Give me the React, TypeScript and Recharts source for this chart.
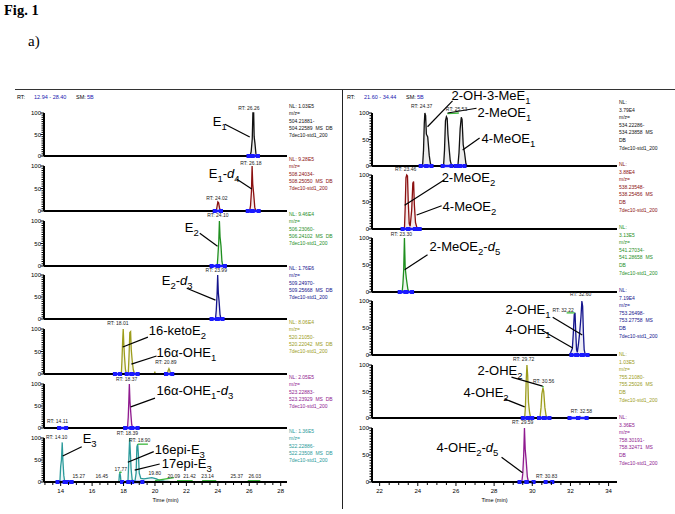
import React from 'react';
import { ComposedChart, Area, Line, XAxis, YAxis, ReferenceLine, ReferenceDot } from 'recharts';

type Pt = [number, number];
type Rt = [string, number, number];
type Name = [string, number, number, number, number, number, number];

// axes
const leftDomain: Pt = [12.94, 28.4];
const rightDomain: Pt = [21.6, 34.44];
const leftTicks = [13, 13.5, 14, 14.5, 15, 15.5, 16, 16.5, 17, 17.5, 18, 18.5, 19, 19.5, 20, 20.5, 21, 21.5, 22, 22.5, 23, 23.5, 24, 24.5, 25, 25.5, 26, 26.5, 27, 27.5, 28];
const rightTicks = [22, 22.5, 23, 23.5, 24, 24.5, 25, 25.5, 26, 26.5, 27, 27.5, 28, 28.5, 29, 29.5, 30, 30.5, 31, 31.5, 32, 32.5, 33, 33.5, 34];
const yTicks = [0, 5, 10, 15, 20, 25, 30, 35, 40, 45, 50, 55, 60, 65, 70, 75, 80, 85, 90, 95, 100];

// ---- left panel traces (relative abundance) ----
const e1Trace: Pt[] = [[12.94, 0], [26.05, 0], [26.12, 10], [26.19, 40], [26.23, 100], [26.28, 100], [26.31, 45], [26.36, 30], [26.42, 6], [26.48, 0], [28.4, 0]];
const e1Markers: Pt[] = [[25.95, 26.18], [26.22, 26.55]];
const e1Rt: Rt[] = [['RT: 26.26', 25.97, 107]];
const e1Names: Name[] = [['E{1}', 23.68, 70, 24.45, 74, 26.03, 44]];
const e1Nl = ['NL: 1.03E5', 'm/z=', '504.21881-', '504.22589  MS  DB', '7dec10-std1_200'];

const e1d4Trace: Pt[] = [[12.94, 0], [23.9, 0], [23.95, 10], [24.0, 20], [24.05, 18], [24.1, 8], [24.16, 0], [26.02, 0], [26.08, 12], [26.14, 45], [26.18, 100], [26.22, 60], [26.28, 38], [26.35, 8], [26.42, 0], [28.4, 0]];
const e1d4Markers: Pt[] = [[23.8, 24.2], [25.9, 26.18], [26.22, 26.6]];
const e1d4Rt: Rt[] = [['RT: 26.18', 26.1, 102], ['RT: 24.02', 23.94, 24]];
const e1d4Names: Name[] = [['E{1}-[d]{4}', 23.42, 73, 25.19, 71, 26.16, 49]];
const e1d4Nl = ['NL: 9.28E5', 'm/z=', '508.24034-', '508.25050  MS  DB', '7dec10-std1_200'];

const e2Trace: Pt[] = [[12.94, 0], [23.96, 0], [24.0, 20], [24.06, 55], [24.1, 100], [24.14, 65], [24.2, 45], [24.26, 10], [24.32, 0], [28.4, 0]];
const e2Markers: Pt[] = [[23.6, 23.98], [24.02, 24.45]];
const e2Rt: Rt[] = [['RT: 24.10', 24.0, 109]];
const e2Names: Name[] = [['E{2}', 21.9, 76, 22.85, 73, 23.98, 44]];
const e2Nl = ['NL: 9.46E4', 'm/z=', '506.23060-', '506.24102  MS  DB', '7dec10-std1_200'];

const e2d3Trace: Pt[] = [[12.94, 0], [23.85, 0], [23.9, 20], [23.95, 55], [23.99, 100], [24.03, 60], [24.08, 40], [24.14, 10], [24.2, 0], [28.4, 0]];
const e2d3Markers: Pt[] = [[23.6, 23.95], [24.0, 24.3]];
const e2d3Rt: Rt[] = [['RT: 23.99', 23.9, 107]];
const e2d3Names: Name[] = [['E{2}-[d]{3}', 20.43, 77, 22.02, 70, 23.85, 43]];
const e2d3Nl = ['NL: 1.76E6', 'm/z=', '509.24970-', '509.25668  MS  DB', '7dec10-std1_200'];

const ketoTrace: Pt[] = [[12.94, 0], [17.86, 0], [17.9, 30], [17.94, 70], [17.98, 100], [18.02, 65], [18.06, 40], [18.12, 10], [18.18, 0], [18.3, 0], [18.35, 40], [18.4, 92], [18.45, 94], [18.49, 55], [18.55, 30], [18.62, 10], [18.7, 0], [19.96, 0], [19.99, 5], [20.02, 0], [20.78, 0], [20.84, 8], [20.89, 12], [20.94, 8], [21.0, 0], [28.4, 0]];
const ketoMarkers: Pt[] = [[17.45, 17.78], [18.2, 18.5], [18.55, 18.9], [20.7, 21.1]];
const ketoRt: Rt[] = [['RT: 18.01', 17.64, 109], ['RT: 20.89', 20.69, 22]];
const ketoNames: Name[] = [['16-ketoE{2}', 19.6, 87, 19.55, 82, 17.95, 60], ['16α-OHE{1}', 20.1, 38, 20.1, 40, 18.5, 22]];
const ketoNl = ['NL: 8.06E4', 'm/z=', '520.21050-', '520.22042  MS  DB', '7dec10-std1_200'];

const ohd3Trace: Pt[] = [[12.94, 0], [18.25, 0], [18.3, 25], [18.34, 65], [18.37, 100], [18.41, 60], [18.46, 35], [18.52, 8], [18.58, 0], [28.4, 0]];
const ohd3Markers: Pt[] = [[13.9, 14.35], [18.1, 18.5], [18.55, 18.9]];
const ohd3Rt: Rt[] = [['RT: 18.37', 18.2, 107], ['RT: 14.11', 13.8, 11]];
const ohd3Names: Name[] = [['16α-OHE{1}-[d]{3}', 20.1, 75, 20.0, 68, 18.46, 48]];
const ohd3Nl = ['NL: 2.05E5', 'm/z=', '523.22883-', '523.23929  MS  DB', '7dec10-std1_200'];

const e3Trace: Pt[] = [[12.94, 0], [13.95, 0], [14.0, 35], [14.05, 50], [14.1, 90], [14.14, 50], [14.2, 15], [14.26, 0], [17.7, 0], [17.74, 18], [17.77, 20], [17.8, 15], [17.84, 0], [18.28, 0], [18.33, 45], [18.39, 100], [18.43, 70], [18.48, 30], [18.55, 5], [18.72, 0], [18.8, 20], [18.85, 80], [18.9, 86], [18.95, 60], [19.0, 20], [19.1, 8], [19.3, 7], [19.6, 9], [19.8, 10], [20.1, 7], [20.3, 3], [20.6, 2], [21.0, 1], [21.3, 0], [28.4, 0]];
const e3Greens: Pt[][] = [[[17.72, 22], [17.88, 22]], [[18.9, 86], [19.55, 86]], [[20.0, 3], [21.2, 10]], [[21.4, 3], [22.4, 3]], [[23.0, 3], [23.9, 3]], [[25.9, 3], [26.7, 3]]];
const e3Markers: Pt[] = [[13.8, 14.25], [14.45, 14.7], [17.9, 18.3], [18.55, 19.2]];
const e3Rt: Rt[] = [['RT: 14.10', 13.75, 98], ['RT: 18.39', 18.24, 107], ['RT: 18.90', 19.03, 91], ['15.27', 15.15, 9], ['16.45', 16.62, 9], ['17.77', 17.83, 25], ['19.80', 19.99, 16], ['20.09', 21.2, 9], ['21.42', 22.2, 9], ['23.14', 23.35, 9], ['25.37', 25.2, 9], ['26.03', 26.35, 9]];
const e3Names: Name[] = [['E{3}', 15.4, 89, 15.34, 80, 14.13, 59], ['16epi-E{3}', 19.99, 64, 19.92, 69, 18.27, 45], ['17epi-E{3}', 20.43, 31, 20.3, 41, 18.71, 27]];
const e3Nl = ['NL: 1.36E5', 'm/z=', '522.22886-', '522.23508  MS  DB', '7dec10-std1_200'];

// ---- right panel traces ----
const meoE1Trace: Pt[] = [[21.6, 0], [24.25, 0], [24.3, 30], [24.34, 80], [24.37, 100], [24.41, 95], [24.45, 60], [24.52, 55], [24.6, 20], [24.66, 5], [24.72, 0], [25.35, 0], [25.4, 30], [25.45, 85], [25.5, 93], [25.54, 90], [25.58, 60], [25.65, 30], [25.7, 10], [25.78, 0], [26.1, 0], [26.16, 25], [26.22, 70], [26.28, 92], [26.32, 88], [26.38, 40], [26.45, 25], [26.52, 5], [26.58, 0], [34.44, 0]];
const meoE1Greens: Pt[][] = [[[25.55, 99], [26.15, 100]]];
const meoE1Markers: Pt[] = [[24.15, 24.45], [24.45, 24.72], [25.3, 25.77], [26.0, 26.2], [26.2, 26.45]];
const meoE1Rt: Rt[] = [['RT: 24.37', 24.2, 109], ['RT: 25.53', 26.03, 104]];
const meoE1Names: Name[] = [['2-OH-3-MeE{1}', 25.77, 125, 25.82, 123, 24.51, 74], ['2-MeOE{1}', 27.13, 92, 27.08, 109, 25.56, 100], ['4-MeOE{1}', 27.34, 43, 27.24, 53, 26.35, 30]];
const meoE1Nl = ['NL:', '3.79E4', 'm/z=', '534.22286-', '534.23858  MS', 'DB', '7dec10-std1_200'];

const meoE2Trace: Pt[] = [[21.6, 0], [23.3, 0], [23.34, 40], [23.38, 95], [23.42, 100], [23.46, 98], [23.5, 50], [23.55, 10], [23.6, 5], [23.68, 35], [23.74, 85], [23.78, 88], [23.82, 45], [23.88, 12], [23.95, 3], [24.05, 0], [34.44, 0]];
const meoE2Markers: Pt[] = [[23.2, 23.5], [23.5, 23.85], [23.95, 24.1]];
const meoE2Rt: Rt[] = [['RT: 23.46', 23.36, 107]];
const meoE2Names: Name[] = [['2-MeOE{2}', 25.25, 87, 25.4, 91, 23.31, 44], ['4-MeOE{2}', 25.3, 33, 25.25, 43, 23.94, 26]];
const meoE2Nl = ['NL:', '3.88E4', 'm/z=', '538.23548-', '538.25456  MS', 'DB', '7dec10-std1_200'];

const meoE2d5Trace: Pt[] = [[21.6, 0], [23.18, 0], [23.22, 15], [23.26, 40], [23.3, 100], [23.34, 45], [23.4, 25], [23.48, 5], [23.55, 0], [34.44, 0]];
const meoE2d5Markers: Pt[] = [[23.05, 23.35], [23.4, 23.7]];
const meoE2d5Rt: Rt[] = [['RT: 23.30', 23.14, 104]];
const meoE2d5Names: Name[] = [['2-MeOE{2}-[d]{5}', 24.62, 76, 24.51, 69, 23.31, 41]];
const meoE2d5Nl = ['NL:', '3.13E5', 'm/z=', '541.27034-', '541.28658  MS', 'DB', '7dec10-std1_200'];

const ohE1Trace: Pt[] = [[21.6, 0], [31.95, 0], [32.02, 5], [32.1, 12], [32.15, 40], [32.2, 75], [32.24, 78], [32.28, 40], [32.32, 10], [32.36, 5], [32.42, 20], [32.48, 40], [32.55, 70], [32.6, 100], [32.64, 90], [32.68, 40], [32.72, 10], [32.78, 0], [34.44, 0]];
const ohE1Greens: Pt[][] = [[[31.8, 78], [32.22, 78]]];
const ohE1Markers: Pt[] = [[32.05, 32.3], [32.35, 32.6], [32.65, 32.9]];
const ohE1Rt: Rt[] = [['RT: 32.22', 31.62, 80], ['RT: 32.60', 32.53, 109]];
const ohE1Names: Name[] = [['2-OHE{1}', 28.6, 76, 31.07, 70, 32.62, 37], ['4-OHE{1}', 28.6, 39, 30.5, 46, 32.12, 13]];
const ohE1Nl = ['NL:', '7.19E4', 'm/z=', '753.26498-', '753.27758  MS', 'DB', '7dec10-std1_200'];

const ohE2Trace: Pt[] = [[21.6, 0], [29.6, 0], [29.64, 20], [29.68, 70], [29.72, 100], [29.76, 80], [29.8, 30], [29.86, 10], [29.92, 0], [30.4, 0], [30.46, 20], [30.5, 45], [30.56, 57], [30.6, 50], [30.66, 20], [30.72, 5], [30.78, 0], [32.45, 0], [32.5, 3], [32.55, 0], [34.44, 0]];
const ohE2Greens: Pt[][] = [[[30.52, 59], [30.6, 59]]];
const ohE2Markers: Pt[] = [[29.5, 29.75], [29.8, 30.0], [30.35, 30.6], [30.65, 30.9], [31.95, 32.4], [32.4, 32.85]];
const ohE2Rt: Rt[] = [['RT: 29.72', 29.55, 107], ['RT: 30.56', 30.6, 66], ['RT: 32.58', 32.58, 9]];
const ohE2Names: Name[] = [['2-OHE{2}', 27.13, 81, 28.91, 77, 30.54, 60], ['4-OHE{2}', 26.4, 40, 28.55, 36, 29.6, 21]];
const ohE2Nl = ['NL:', '1.03E5', 'm/z=', '755.21080-', '755.25026  MS', 'DB', '7dec10-std1_200'];

const ohE2d5Trace: Pt[] = [[21.6, 0], [29.45, 0], [29.5, 15], [29.55, 50], [29.59, 100], [29.63, 60], [29.68, 40], [29.74, 10], [29.8, 0], [34.44, 0]];
const ohE2d5Markers: Pt[] = [[29.33, 29.7], [29.7, 30.07], [30.7, 31.05]];
const ohE2d5Rt: Rt[] = [['RT: 29.59', 29.5, 107], ['RT: 30.83', 30.75, 7]];
const ohE2d5Names: Name[] = [['4-OHE{2}-[d]{5}', 24.98, 56, 28.39, 46, 29.49, 17]];
const ohE2d5Nl = ['NL:', '3.36E5', 'm/z=', '758.30191-', '758.32471  MS', 'DB', '7dec10-std1_200'];

const BLUE = '#1a1aff';
const LIME = '#3cb83c';
const HDR = '#2020b0';
const SANS = 'Arial, "Liberation Sans", sans-serif';
const SERIF = '"Liberation Serif", "Times New Roman", serif';

const LEFT = { x0: 0, x1: 343, plotL: 44, plotR: 287, domain: leftDomain, ticks: leftTicks };
const RIGHT = { x0: 343, x1: 675, plotL: 372, plotR: 617, domain: rightDomain, ticks: rightTicks };

const rows = (pts: Pt[]) => pts.map(([t, v]) => ({ t, v }));

// "E{1}-[d]{4}" -> E with subscript 1, dash, italic d, subscript 4
function richText(s: string) {
  const out: React.ReactNode[] = [];
  const re = /\{([^}]*)\}|\[([^\]]*)\]|([^{[]+)/g;
  let m: RegExpExecArray | null;
  let low = false;
  let k = 0;
  while ((m = re.exec(s))) {
    if (m[1] !== undefined) {
      out.push(<tspan key={k++} dy={low ? 0 : 4} fontSize={9.5}>{m[1]}</tspan>);
      low = true;
    } else {
      const txt = m[2] !== undefined ? m[2] : m[3];
      out.push(<tspan key={k++} dy={low ? -4 : 0} fontSize={13} fontStyle={m[2] !== undefined ? 'italic' : 'normal'}>{txt}</tspan>);
      low = false;
    }
  }
  return out;
}

function YTick({ x, y, payload }: any) {
  const major = payload.value % 50 === 0;
  return (
    <g>
      <line x1={x} x2={x - (major ? 3.5 : 2.5)} y1={y} y2={y} stroke="#000" strokeWidth={1} />
      {major && <text x={x - 3} y={y + 2} fontSize={6} textAnchor="end" fill="#000" fontFamily={SANS}>{payload.value}</text>}
    </g>
  );
}

function XTick({ x, y, payload }: any) {
  const major = payload.value % 2 === 0;
  return (
    <g>
      <line x1={x} x2={x} y1={y} y2={y + (major ? 4 : 3)} stroke="#000" strokeWidth={1} />
      {major && <text x={x} y={y + 11} fontSize={6} textAnchor="middle" fill="#000" fontFamily={SANS}>{payload.value}</text>}
    </g>
  );
}

interface SubplotProps {
  panel: typeof LEFT;
  top: number;
  base: number;
  color: string;
  trace: Pt[];
  markers: Pt[];
  greens?: Pt[][];
  rt: Rt[];
  names: Name[];
  nl: string[];
  bottom?: boolean;
}

function Subplot({ panel, top, base, color, trace, markers, greens = [], rt, names, nl, bottom }: SubplotProps) {
  const padTop = 30;
  const padBottom = bottom ? 30 : 6;
  const w = panel.x1 - panel.x0;
  const h = padTop + (base - top) + padBottom;
  const yw = 22;
  const nlStep = nl.length > 5 ? 7.6 : 7.3;
  const nlStart = nl.length > 5 ? -9 : -5;
  return (
    <div style={{ position: 'absolute', left: panel.x0, top: top - padTop, width: w, height: h }}>
      <ComposedChart
        width={w}
        height={h}
        margin={{ top: padTop, right: panel.x1 - panel.plotR, bottom: bottom ? 0 : padBottom, left: panel.plotL - panel.x0 - yw }}
      >
        <XAxis
          type="number"
          dataKey="t"
          domain={panel.domain}
          hide={!bottom}
          ticks={panel.ticks}
          interval={0}
          tickSize={0}
          tickMargin={0}
          tickLine={false}
          tick={<XTick />}
          height={padBottom}
          axisLine={{ stroke: '#000', strokeWidth: 2 }}
          label={bottom ? { value: 'Time (min)', position: 'insideBottom', offset: 10, fontSize: 5.5, fill: '#000', fontFamily: SANS } : undefined}
        />
        <YAxis
          type="number"
          domain={[0, 100]}
          ticks={yTicks}
          interval={0}
          tickSize={0}
          tickMargin={0}
          tickLine={false}
          tick={<YTick />}
          width={yw}
          axisLine={{ stroke: '#000', strokeWidth: 2 }}
        />
        <ReferenceLine y={0} stroke="#000" strokeWidth={2} />
        <Area
          data={rows(trace)}
          dataKey="v"
          type="linear"
          stroke={color}
          strokeWidth={1.3}
          fill={color}
          fillOpacity={0.08}
          dot={false}
          activeDot={false}
          isAnimationActive={false}
        />
        {greens.map((g, i) => (
          <Line key={'g' + i} data={rows(g)} dataKey="v" type="linear" stroke={LIME} strokeWidth={1.3} dot={false} activeDot={false} isAnimationActive={false} />
        ))}
        {markers.map((mk, i) => (
          <Line
            key={'m' + i}
            data={[{ t: mk[0], v: 0 }, { t: mk[1], v: 0 }]}
            dataKey="v"
            type="linear"
            stroke={BLUE}
            strokeWidth={2.5}
            dot={(p: any) => <rect key={p.index} x={p.cx - 2} y={p.cy - 2} width={4} height={4} fill={BLUE} />}
            activeDot={false}
            isAnimationActive={false}
          />
        ))}
        {rt.map(([txt, t, v], i) => (
          <ReferenceDot
            key={'r' + i}
            x={t}
            y={v}
            r={0}
            ifOverflow="visible"
            shape={(p: any) => (
              <text x={p.cx} y={p.cy} fontSize={5} textAnchor="middle" fill="#222" fontFamily={SANS}>{txt}</text>
            )}
          />
        ))}
        {names.map(([txt, , , x1, y1, x2, y2], i) => (
          <ReferenceLine key={'l' + i} segment={[{ x: x1, y: y1 }, { x: x2, y: y2 }]} stroke="#000" strokeWidth={1.2} ifOverflow="visible" />
        ))}
        {names.map(([txt, t, v], i) => (
          <ReferenceDot
            key={'n' + i}
            x={t}
            y={v}
            r={0}
            ifOverflow="visible"
            shape={(p: any) => (
              <text x={p.cx} y={p.cy} fill="#000" fontFamily={SANS}>{richText(txt)}</text>
            )}
          />
        ))}
        <ReferenceDot
          x={panel.domain[1]}
          y={100}
          r={0}
          ifOverflow="visible"
          shape={(p: any) => (
            <g>
              {nl.map((line, i) => (
                <text key={i} x={p.cx + 2} y={p.cy + nlStart + i * nlStep} fontSize={5} fill={color} fontFamily={SANS} style={{ whiteSpace: 'pre' }}>{line}</text>
              ))}
            </g>
          )}
        />
      </ComposedChart>
    </div>
  );
}

function Header({ left, range }: { left: number; range: string }) {
  const base: React.CSSProperties = { position: 'absolute', top: 95, fontFamily: SANS, fontSize: 5.5, lineHeight: 1, whiteSpace: 'pre' };
  return (
    <>
      <span style={{ ...base, left }}>RT:</span>
      <span style={{ ...base, left: left + 17, color: HDR }}>{range}</span>
      <span style={{ ...base, left: left + 59, color: '#000' }}>SM:</span>
      <span style={{ ...base, left: left + 70, color: HDR }}>5B</span>
    </>
  );
}

export default function App() {
  return (
    <div style={{ position: 'absolute', left: 0, top: 0, width: 675, height: 514, background: '#fff', overflow: 'hidden' }}>
      <div style={{ position: 'absolute', left: 4, top: 2, fontFamily: SERIF, fontWeight: 'bold', fontSize: 14.5 }}>Fig. 1</div>
      <div style={{ position: 'absolute', left: 28, top: 33, fontFamily: SERIF, fontSize: 15 }}>a)</div>
      <div style={{ position: 'absolute', left: 15, top: 89, width: 660, height: 0, borderTop: '1.5px solid #333' }} />
      <div style={{ position: 'absolute', left: 342, top: 90, width: 0, height: 419, borderLeft: '1.5px solid #222' }} />
      <Header left={17} range="12.94 - 28.40" />
      <Header left={347} range="21.60 - 34.44" />

      <Subplot panel={LEFT} top={113} base={156} color="#111111" trace={e1Trace} markers={e1Markers} rt={e1Rt} names={e1Names} nl={e1Nl} />
      <Subplot panel={LEFT} top={166} base={211} color="#8b1010" trace={e1d4Trace} markers={e1d4Markers} rt={e1d4Rt} names={e1d4Names} nl={e1d4Nl} />
      <Subplot panel={LEFT} top={221} base={266} color="#1f8f1f" trace={e2Trace} markers={e2Markers} rt={e2Rt} names={e2Names} nl={e2Nl} />
      <Subplot panel={LEFT} top={275} base={319} color="#14148c" trace={e2d3Trace} markers={e2d3Markers} rt={e2d3Rt} names={e2d3Names} nl={e2d3Nl} />
      <Subplot panel={LEFT} top={329} base={374} color="#9c9c1c" trace={ketoTrace} markers={ketoMarkers} rt={ketoRt} names={ketoNames} nl={ketoNl} />
      <Subplot panel={LEFT} top={384} base={428} color="#8f1a8f" trace={ohd3Trace} markers={ohd3Markers} rt={ohd3Rt} names={ohd3Names} nl={ohd3Nl} />
      <Subplot panel={LEFT} top={438} base={482} color="#2b9a9a" trace={e3Trace} markers={e3Markers} greens={e3Greens} rt={e3Rt} names={e3Names} nl={e3Nl} bottom />

      <Subplot panel={RIGHT} top={113} base={166} color="#111111" trace={meoE1Trace} markers={meoE1Markers} greens={meoE1Greens} rt={meoE1Rt} names={meoE1Names} nl={meoE1Nl} />
      <Subplot panel={RIGHT} top={175} base={229} color="#8b1010" trace={meoE2Trace} markers={meoE2Markers} rt={meoE2Rt} names={meoE2Names} nl={meoE2Nl} />
      <Subplot panel={RIGHT} top={238} base={292} color="#1f8f1f" trace={meoE2d5Trace} markers={meoE2d5Markers} rt={meoE2d5Rt} names={meoE2d5Names} nl={meoE2d5Nl} />
      <Subplot panel={RIGHT} top={301} base={355} color="#14148c" trace={ohE1Trace} markers={ohE1Markers} greens={ohE1Greens} rt={ohE1Rt} names={ohE1Names} nl={ohE1Nl} />
      <Subplot panel={RIGHT} top={365} base={418} color="#9c9c1c" trace={ohE2Trace} markers={ohE2Markers} greens={ohE2Greens} rt={ohE2Rt} names={ohE2Names} nl={ohE2Nl} />
      <Subplot panel={RIGHT} top={428} base={482} color="#8f1a8f" trace={ohE2d5Trace} markers={ohE2d5Markers} rt={ohE2d5Rt} names={ohE2d5Names} nl={ohE2d5Nl} bottom />
    </div>
  );
}
